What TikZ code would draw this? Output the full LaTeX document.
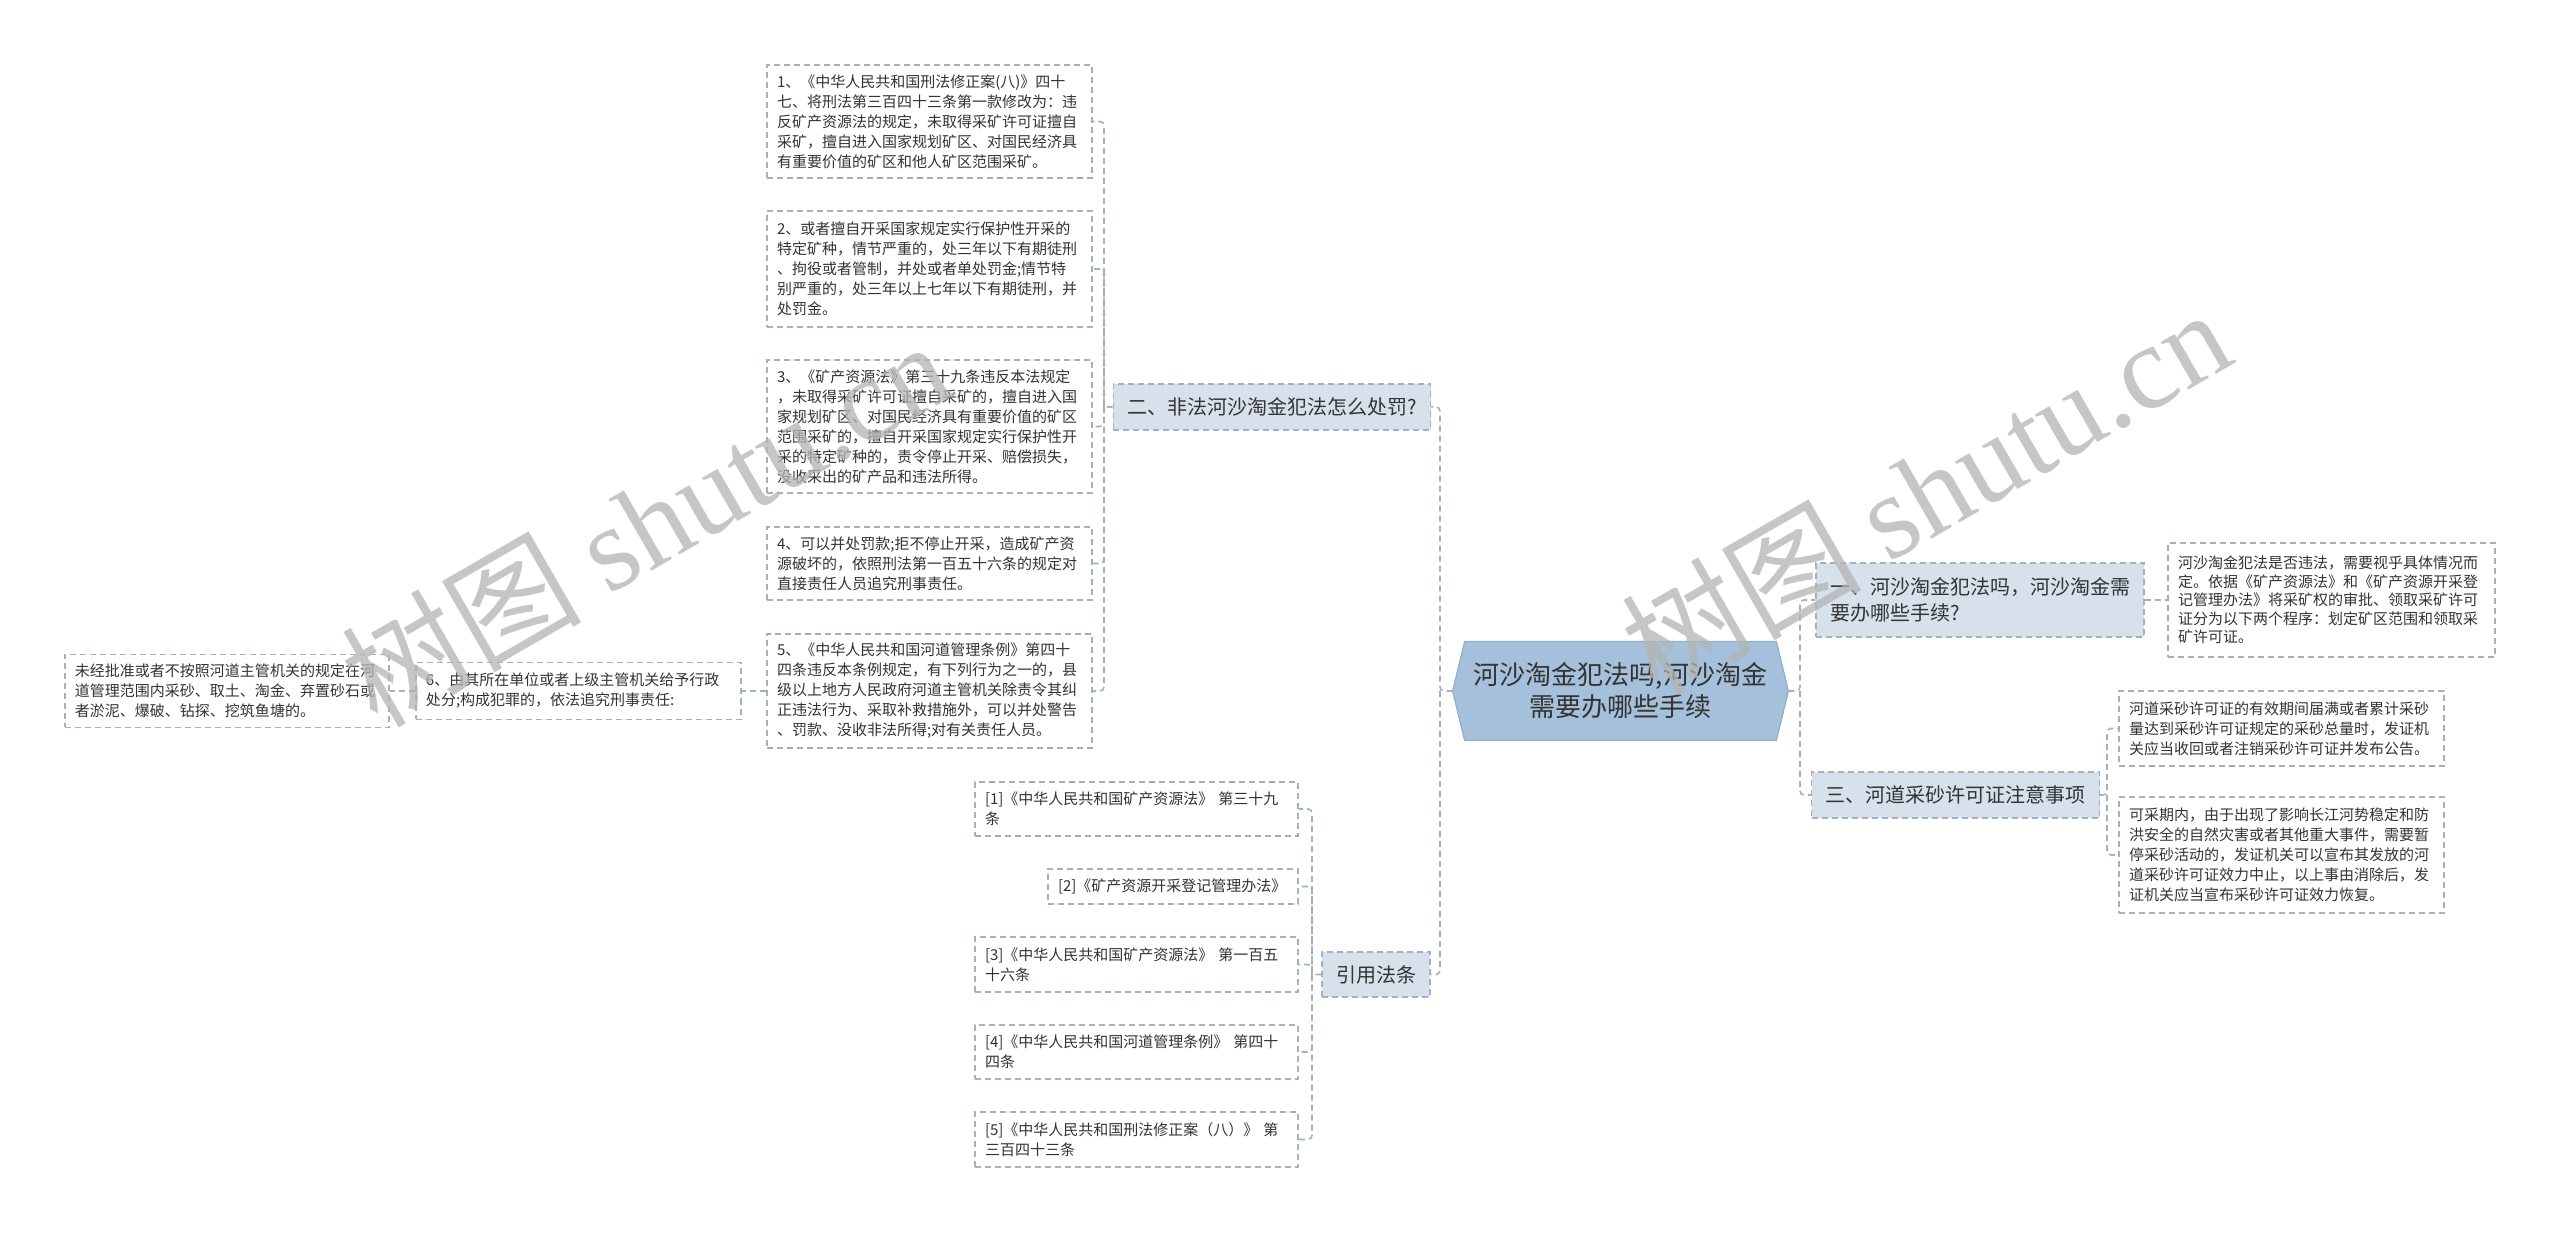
\documentclass[tikz,border=0pt]{standalone}
\usepackage{fontspec}
\setmainfont{Noto Sans CJK SC}
\newfontfamily\wmlatin{Liberation Serif}
\usetikzlibrary{backgrounds}
\definecolor{txt}{HTML}{333333}
\definecolor{boxc}{HTML}{A3B1BF}
\definecolor{linec}{HTML}{A3B1BF}
\definecolor{topicc}{HTML}{D6E1EB}
\definecolor{cfill}{HTML}{A4C0DA}
\definecolor{cborder}{HTML}{90B0CE}
\definecolor{wmc}{HTML}{B4B4B4}
\tikzset{
  conn/.style={draw=linec, line width=0.8bp, dash pattern=on 3bp off 2bp, rounded corners=2bp},
  leaf/.style={draw=boxc, dash pattern=on 3bp off 2bp, line width=0.6bp, fill=white, text=txt,
    align=left, inner xsep=5bp, inner ysep=0pt, font=\fontsize{7.5bp}{10bp}\selectfont},
  topic/.style={draw=boxc, dash pattern=on 3bp off 2bp, line width=0.6bp, fill=topicc, text=txt,
    inner xsep=7bp, inner ysep=0pt, font=\fontsize{10bp}{13bp}\selectfont},
  central/.style={inner sep=0pt, text=txt, align=center, font=\fontsize{13bp}{16bp}\selectfont},
  wm/.style={text=wmc, text opacity=0.75, rotate=30, inner sep=0pt}
}
\begin{document}
\begin{tikzpicture}[x=0.5bp,y=-0.5bp]
\useasboundingbox (0,0) rectangle (2560,1233);

% central topic
\node[central, minimum width=167.5bp, minimum height=49bp] (c) at (1620.5,691) {河沙淘金犯法吗,河沙淘金\\需要办哪些手续};
\begin{pgfonlayer}{background}
\fill[white] (0,0) rectangle (2560,1233);
\draw[fill=cfill, draw=cborder, line width=0.6bp] (c.west) -- ([xshift=6bp]c.north west) -- ([xshift=-6bp]c.north east) -- (c.east) -- ([xshift=-6bp]c.south east) -- ([xshift=6bp]c.south west) -- cycle;
\end{pgfonlayer}

% main branches
\node[topic, minimum width=153bp, minimum height=23bp] (n2) at (1272,407) {二、非法河沙淘金犯法怎么处罚?};
\node[topic, minimum width=49bp, minimum height=22.5bp] (nr) at (1376,974.5) {引用法条};
\node[topic, align=left, text width=150bp, minimum width=164bp, minimum height=37bp] (n1) at (1980,600) {一、河沙淘金犯法吗，河沙淘金需\\要办哪些手续?};
\node[topic, minimum width=139.5bp, minimum height=23bp] (n3) at (1955.5,795) {三、河道采砂许可证注意事项};

% branch 二 leaves
\node[leaf, minimum width=162.5bp, text width=152.5bp, minimum height=56.5bp] (b1) at (929.5,121.5) {1、《中华人民共和国刑法修正案(八)》四十\\七、将刑法第三百四十三条第一款修改为：违\\反矿产资源法的规定，未取得采矿许可证擅自\\采矿，擅自进入国家规划矿区、对国民经济具\\有重要价值的矿区和他人矿区范围采矿。};
\node[leaf, minimum width=162.5bp, text width=152.5bp, minimum height=58bp] (b2) at (929.5,269) {2、或者擅自开采国家规定实行保护性开采的\\特定矿种，情节严重的，处三年以下有期徒刑\\、拘役或者管制，并处或者单处罚金;情节特\\别严重的，处三年以上七年以下有期徒刑，并\\处罚金。};
\node[leaf, minimum width=162.5bp, text width=152.5bp, minimum height=66.5bp] (b3) at (929.5,426.5) {3、《矿产资源法》第三十九条违反本法规定\\，未取得采矿许可证擅自采矿的，擅自进入国\\家规划矿区、对国民经济具有重要价值的矿区\\范围采矿的，擅自开采国家规定实行保护性开\\采的特定矿种的，责令停止开采、赔偿损失，\\没收采出的矿产品和违法所得。};
\node[leaf, minimum width=162.5bp, text width=152.5bp, minimum height=36.5bp] (b4) at (929.5,563.5) {4、可以并处罚款;拒不停止开采，造成矿产资\\源破坏的，依照刑法第一百五十六条的规定对\\直接责任人员追究刑事责任。};
\node[leaf, minimum width=162.5bp, text width=152.5bp, minimum height=57bp] (b5) at (929.5,691) {5、《中华人民共和国河道管理条例》第四十\\四条违反本条例规定，有下列行为之一的，县\\级以上地方人民政府河道主管机关除责令其纠\\正违法行为、采取补救措施外，可以并处警告\\、罚款、没收非法所得;对有关责任人员。};
\node[leaf, minimum width=162.5bp, text width=152.5bp, minimum height=28.5bp] (b6) at (578.5,691) {6、由其所在单位或者上级主管机关给予行政\\处分;构成犯罪的，依法追究刑事责任:};
\node[leaf, minimum width=162bp, text width=152bp, minimum height=36.5bp] (b7) at (227,691) {未经批准或者不按照河道主管机关的规定在河\\道管理范围内采砂、取土、淘金、弃置砂石或\\者淤泥、爆破、钻探、挖筑鱼塘的。};

% citations
\node[leaf, minimum width=161.5bp, text width=151.5bp, minimum height=27bp] (r1) at (1136.5,809) {[1]《中华人民共和国矿产资源法》 第三十九\\条};
\node[leaf, minimum width=125bp, text width=115bp, minimum height=17.5bp] (r2) at (1173,886.5) {[2]《矿产资源开采登记管理办法》};
\node[leaf, minimum width=161.5bp, text width=151.5bp, minimum height=27.5bp] (r3) at (1136.5,964.5) {[3]《中华人民共和国矿产资源法》 第一百五\\十六条};
\node[leaf, minimum width=161.5bp, text width=151.5bp, minimum height=27bp] (r4) at (1136.5,1052) {[4]《中华人民共和国河道管理条例》 第四十\\四条};
\node[leaf, minimum width=161.5bp, text width=151.5bp, minimum height=27.5bp] (r5) at (1136.5,1139.5) {[5]《中华人民共和国刑法修正案（八）》 第\\三百四十三条};

% right leaves
\node[leaf, font=\fontsize{7.5bp}{9.3bp}\selectfont, minimum width=163.5bp, text width=153.5bp, minimum height=57bp] (a1) at (2331.5,600) {河沙淘金犯法是否违法，需要视乎具体情况而\\定。依据《矿产资源法》和《矿产资源开采登\\记管理办法》将采矿权的审批、领取采矿许可\\证分为以下两个程序：划定矿区范围和领取采\\矿许可证。};
\node[leaf, minimum width=162.5bp, text width=152.5bp, minimum height=37.5bp] (c1) at (2281.5,728.5) {河道采砂许可证的有效期间届满或者累计采砂\\量达到采砂许可证规定的采砂总量时，发证机\\关应当收回或者注销采砂许可证并发布公告。};
\node[leaf, minimum width=162.5bp, text width=152.5bp, minimum height=58bp] (c2) at (2281.5,855) {可采期内，由于出现了影响长江河势稳定和防\\洪安全的自然灾害或者其他重大事件，需要暂\\停采砂活动的，发证机关可以宣布其发放的河\\道采砂许可证效力中止，以上事由消除后，发\\证机关应当宣布采砂许可证效力恢复。};

% trunk coordinates
\coordinate (tl) at (1440,691);
\coordinate (tr) at (1800,691);
\coordinate (t2) at (1104,407);
\coordinate (tR) at (1312,974.5);
\coordinate (t3) at (2107,795);

% connectors
\begin{pgfonlayer}{background}
\draw[conn] (c.west) -- (tl) |- (n2.east);
\draw[conn] (tl) |- (nr.east);
\draw[conn] (c.east) -- (tr) |- (n1.west);
\draw[conn] (tr) |- (n3.west);
\draw[conn] (n2.west) -- (t2) |- (b1.east);
\draw[conn] (t2) |- (b2.east);
\draw[conn] (t2) |- (b3.east);
\draw[conn] (t2) |- (b4.east);
\draw[conn] (t2) |- (b5.east);
\draw[conn] (b5.west) -- (b6.east);
\draw[conn] (b6.west) -- (b7.east);
\draw[conn] (nr.west) -- (tR) |- (r1.east);
\draw[conn] (tR) |- (r2.east);
\draw[conn] (tR) |- (r3.east);
\draw[conn] (tR) |- (r4.east);
\draw[conn] (tR) |- (r5.east);
\draw[conn] (n1.east) -- (a1.west);
\draw[conn] (n3.east) -- (t3) |- (c1.west);
\draw[conn] (t3) |- (c2.west);
\end{pgfonlayer}

% watermarks
\node[wm] (wm1) at (645,522) {\fontsize{60bp}{60bp}\selectfont 树图 {\wmlatin shutu.cn}};
\node[wm] (wm2) at (1925,490) {\fontsize{60bp}{60bp}\selectfont 树图 {\wmlatin shutu.cn}};
\end{tikzpicture}
\end{document}
